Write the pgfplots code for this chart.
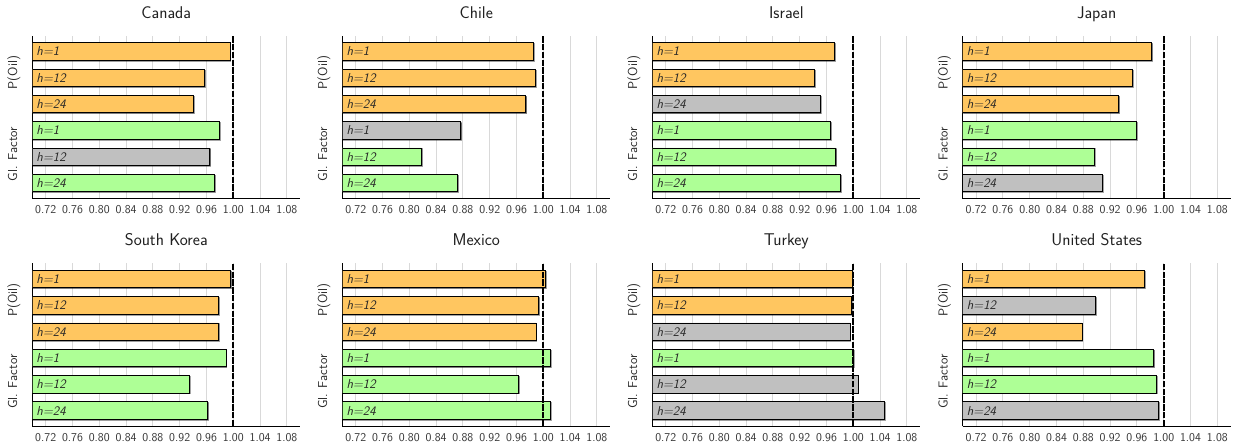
\documentclass[border=0pt]{standalone}
\usepackage{pgfplots}
\pgfplotsset{compat=1.18}
\usetikzlibrary{shadows}
\renewcommand{\familydefault}{\sfdefault}

\definecolor{oilc}{HTML}{FFC660}
\definecolor{gfc}{HTML}{AEFF96}
\definecolor{insig}{HTML}{C0C0C0}
\definecolor{gridc}{HTML}{D9D9D9}

\pgfplotsset{
  rca/.style={
    scale only axis, width=268pt, height=163pt,
    xmin=0.70, xmax=1.10, ymin=-0.6, ymax=5.6,
    axis lines*=left, axis line style={line width=0.9pt},
    xtick={0.72,0.76,0.80,0.84,0.88,0.92,0.96,1.00,1.04,1.08},
    xticklabel style={font=\fontsize{12}{14}\selectfont, text=black!80, yshift=-3.5pt},
    /pgf/number format/fixed, /pgf/number format/fixed zerofill,
    /pgf/number format/precision=2, /pgf/number format/assume math mode=true,
    ytick={1.1,4.2}, yticklabels={Gl. Factor, P(Oil)},
    yticklabel style={rotate=90, anchor=south, font=\fontsize{13}{15}\selectfont,
      text=black!85, text depth=0pt, inner ysep=15pt},
    major tick length=0pt,
    xmajorgrids, grid style={gridc, line width=1.1pt},
    title style={font=\fontsize{17}{20}\selectfont, text=black!88, anchor=base, yshift=11.5pt},
  },
  hbar/.style={xbar, bar shift=0pt, bar width=0.66, draw=black, line width=0.8pt, fill=#1,
    drop shadow={shadow xshift=0.9pt, shadow yshift=-0.9pt, fill=black, opacity=0.35}},
  hlab/.style={draw=none, mark=none, nodes near coords, point meta=explicit symbolic,
    every node near coord/.style={anchor=west, xshift=3pt, inner sep=1pt,
      font=\fontsize{13}{15}\selectfont\itshape, text=black!85}},
  refline/.style={black, line width=1.8pt, dash pattern=on 6.5pt off 1.3pt},
}

% #1,#2: top-left corner of the axis; #3: country;
% #4: oil-price bars, #5: global-factor bars, #6: insignificant bars
\newcommand{\panel}[6]{%
\begin{axis}[rca, at={(#1,#2)}, anchor=north west, title={#3}]
  \addplot[hbar=oilc] coordinates {#4};
  \addplot[hbar=gfc] coordinates {#5};
  \addplot[hbar=insig] coordinates {#6};
  \addplot[hlab] coordinates {(0.70,5)[h=1] (0.70,4)[h=12] (0.70,3)[h=24]
                              (0.70,2)[h=1] (0.70,1)[h=12] (0.70,0)[h=24]};
  \addplot[refline] coordinates {(1,-0.6) (1,5.6)};
\end{axis}}

\begin{document}
\begin{tikzpicture}
\useasboundingbox (0,0) rectangle (1237pt,447pt);

% y: 5 = P(Oil) h=1, 4 = h=12, 3 = h=24, 2 = Gl. Factor h=1, 1 = h=12, 0 = h=24
\panel{32.3pt}{411.3pt}{Canada}
  {(0.995,5) (0.957,4) (0.940,3)}
  {(0.979,2) (0.972,0)}
  {(0.965,1)}
\panel{342.3pt}{411.3pt}{Chile}
  {(0.985,5) (0.988,4) (0.974,3)}
  {(0.818,1) (0.872,0)}
  {(0.877,2)}
\panel{652.3pt}{411.3pt}{Israel}
  {(0.972,5) (0.942,4)}
  {(0.966,2) (0.974,1) (0.981,0)}
  {(0.951,3)}
\panel{962.7pt}{411.3pt}{Japan}
  {(0.982,5) (0.953,4) (0.933,3)}
  {(0.959,2) (0.896,1)}
  {(0.908,0)}

\panel{32.3pt}{183.7pt}{South Korea}
  {(0.996,5) (0.978,4) (0.978,3)}
  {(0.989,2) (0.934,1) (0.962,0)}
  {}
\panel{342.3pt}{183.7pt}{Mexico}
  {(1.003,5) (0.993,4) (0.989,3)}
  {(1.010,2) (0.963,1) (1.010,0)}
  {}
\panel{652.3pt}{183.7pt}{Turkey}
  {(0.998,5) (0.997,4)}
  {(1.000,2)}
  {(0.995,3) (1.007,1) (1.046,0)}
\panel{962.7pt}{183.7pt}{United States}
  {(0.971,5) (0.878,3)}
  {(0.985,2) (0.989,1)}
  {(0.898,4) (0.992,0)}
\end{tikzpicture}
\end{document}
